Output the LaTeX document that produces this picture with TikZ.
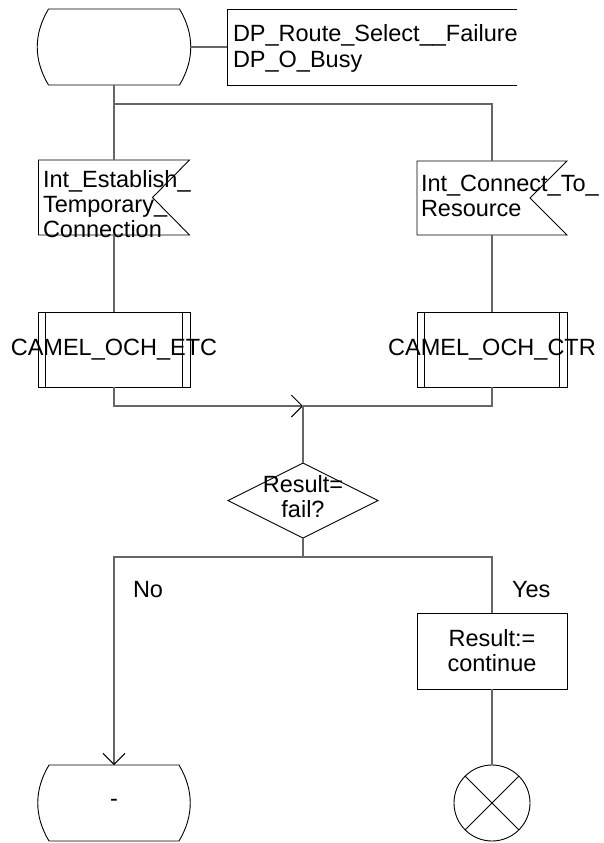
\documentclass[tikz,border=0pt]{standalone}
\usepackage{fontspec}
\setmainfont{Liberation Sans}
\usetikzlibrary{arrows.meta,calc,shapes.geometric}
\newcommand\sdlstateoutline[1]{%
  \draw[shapeline] ($(#1.north west)+(11,0)$) -- ($(#1.north east)+(-11,0)$)
    .. controls ($(#1.north east)+(4,25)$) and ($(#1.south east)+(4,-25)$) .. ($(#1.south east)+(-11,0)$)
    -- ($(#1.south west)+(11,0)$)
    .. controls ($(#1.south west)+(-4,-25)$) and ($(#1.north west)+(-4,25)$) .. cycle;}
\newcommand\sdlprocoutline[1]{%
  \draw[shapeline] ($(#1.north west)+(7.5,0)$) -- ($(#1.south west)+(7.5,0)$)
    ($(#1.north east)+(-7.5,0)$) -- ($(#1.south east)+(-7.5,0)$);}
\newcommand\sdlinputoutline[1]{%
  \draw[shapeline] (#1.north west) -- (#1.north east) -- ($(#1.east)+(-37,0)$)
    -- (#1.south east) -- (#1.south west) -- cycle;}
\begin{document}
\begin{tikzpicture}[x=1pt,y=-1pt,
  every node/.style={font=\fontsize{23.5}{25}\selectfont, inner sep=0pt, outer sep=0pt},
  shapeline/.style={draw=black, line width=0.9pt},
  conn/.style={draw=black!60, line width=1.2pt},
  box/.style={shapeline, rectangle, minimum width=150pt, minimum height=76pt},
  ghost/.style={rectangle, minimum width=#1, minimum height=76pt},
  tip/.style={-{Straight Barb[length=11pt,width=22pt,line width=0.9pt,color=black]}},
  lbl/.style={anchor=base west},
  txt/.style={anchor=north west, align=left},
]
\useasboundingbox (0,0) rectangle (603,843);

% top state
\node[ghost=153pt] (s1) at (114,47) {};
\sdlstateoutline{s1}

% comment
\node[rectangle, minimum width=290pt, minimum height=76pt] (c1) at (372,47) {};
\draw[shapeline] (c1.north east) -- (c1.north west) -- (c1.south west) -- (c1.south east);
\node[txt, font=\fontsize{23.5}{26}\selectfont] (c1t) at (233,24.5) {DP\_Route\_Select\_\_Failure\\DP\_O\_Busy};
\draw[conn] (s1.east) -- (c1.west);

% input signals
\node[rectangle, minimum width=151pt, minimum height=75pt] (g1) at (114,197.5) {};
\sdlinputoutline{g1}
\node[txt] (g1t) at (43,170) {Int\_Establish\_\\Temporary\_\\Connection};

\node[rectangle, minimum width=150pt, minimum height=74pt] (g2) at (492,198) {};
\sdlinputoutline{g2}
\node[txt] (g2t) at (421,175) {Int\_Connect\_To\_\\Resource};

\coordinate (j1) at (114,104);
\draw[conn] (s1.south) -- (j1) -- (g1.north);
\draw[conn] (j1) -| (g2.north);

% procedures
\node[box, minimum width=152pt, minimum height=75pt] (p1) at (114,349.5) {};
\sdlprocoutline{p1}
\node (p1t) at (114,349.5) {CAMEL\_OCH\_ETC};
\node[box, minimum width=150pt, minimum height=75pt] (p2) at (492,349.5) {};
\sdlprocoutline{p2}
\node (p2t) at (492,349.5) {CAMEL\_OCH\_CTR};
\draw[conn] (g1.south) -- (p1.north);
\draw[conn] (g2.south) -- (p2.north);

% merge
\coordinate (m1) at (303,406);
\draw[conn,tip] (p1.south) |- (m1);
\draw[conn] (m1) -| (p2.south);

% decision
\node[diamond, shapeline, aspect=2, minimum width=150pt, minimum height=75pt] (d1) at (303,500.5) {};
\node[align=center] (d1t) at (303,497) {Result=\\fail?};
\draw[conn] (m1) -- (d1.north);

% task and end states
\node[box, align=center, minimum width=150pt, minimum height=76pt] (t1) at (492,651) {Result:=\\continue};
\node[ghost=152pt] (s2) at (114,803) {-};
\sdlstateoutline{s2}
\node[circle, shapeline, minimum size=76pt] (x1) at (492,803) {};
\draw[shapeline] (x1.north west) -- (x1.south east) (x1.north east) -- (x1.south west);

\coordinate (j2) at (303,557);
\draw[conn] (d1.south) -- (j2);
\draw[conn,tip] (j2) -| (s2.north);
\draw[conn] (j2) -| (t1.north);
\draw[conn] (t1.south) -- (x1.north);

\node[lbl] (no) at (133,597) {No};
\node[lbl] (yes) at (512,597) {Yes};
\end{tikzpicture}
\end{document}
